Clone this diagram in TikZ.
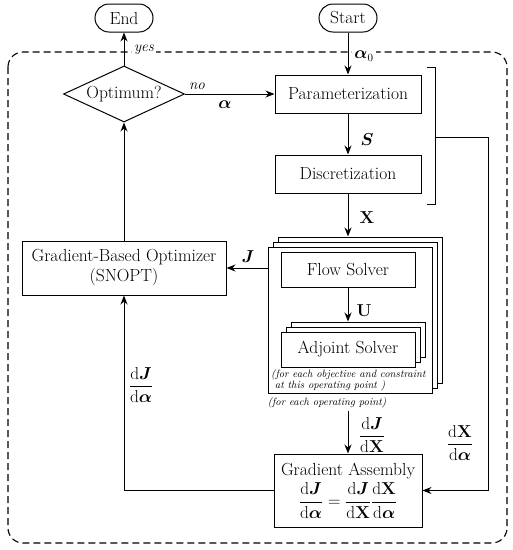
\documentclass[tikz,border=0pt]{standalone}
\usepackage{amsmath}
\usetikzlibrary{shapes.geometric,arrows.meta}
\begin{document}
\begin{tikzpicture}[x=1pt,y=-1pt,
  font=\fontsize{17.5}{20}\selectfont,
  ln/.style={line width=1pt},
  bx/.style={draw,ln,fill=white,inner sep=2pt},
  arr/.style={ln,-{Stealth[length=9pt,width=7pt]}},
  lbl/.style={font=\fontsize{16}{18}\selectfont,inner sep=1pt},
  note/.style={font=\fontsize{10.6}{11.5}\selectfont\itshape,inner sep=0pt},
  term/.style={draw,ln,rounded corners=14pt,minimum height=28pt,minimum width=58pt,inner sep=2pt}]
\useasboundingbox (0,0) rectangle (513,550);
% dashed frame
\draw[line width=1.1pt,dash pattern=on 7pt off 4pt,rounded corners=15pt] (8,52) rectangle (507,543);
% terminals
\node[term] (end) at (124,18) {End};
\node[term] (start) at (348,18) {Start};
% decision
\node[draw,ln,diamond,aspect=2.16,minimum width=121pt,minimum height=56pt,inner sep=0pt] (opt) at (124,94) {Optimum?};
% boxes
\node[bx,minimum width=146pt,minimum height=38pt] (par) at (348,94) {Parameterization};
\node[bx,minimum width=146pt,minimum height=38pt] (dis) at (348,174) {Discretization};
\node[bx,minimum width=204pt,minimum height=54pt,align=center] (gbo) at (124,268) {Gradient-Based Optimizer\\(SNOPT)};
% flow stack
\node[bx,minimum width=164pt,minimum height=146pt] (fs3) at (360,310) {};
\node[bx,minimum width=164pt,minimum height=146pt] (fs2) at (355,315) {};
\node[bx,minimum width=164pt,minimum height=146pt] (fs1) at (350,320) {};
\node[bx,minimum width=134pt,minimum height=35pt] (flow) at (348,270) {Flow Solver};
\node[bx,minimum width=134pt,minimum height=35pt] (ad3) at (358,339.5) {};
\node[bx,minimum width=134pt,minimum height=35pt] (ad2) at (353,344.5) {};
\node[bx,minimum width=134pt,minimum height=35pt] (ad1) at (348,349.5) {Adjoint Solver};
\node[note,anchor=north west,align=left] (objnote) at (271,369) {(for each objective and constraint\\\ at this operating point )};
\node[note] (opnote) at (327,403) {(for each operating point)};
% gradient assembly
\node[bx,minimum width=148pt,minimum height=73pt,align=center] (ga) at (348,490.5)
  {Gradient Assembly\\[3pt]
   $\dfrac{\mathrm{d}\boldsymbol{J}}{\mathrm{d}\boldsymbol{\alpha}}=\dfrac{\mathrm{d}\boldsymbol{J}}{\mathrm{d}\mathbf{X}}\dfrac{\mathrm{d}\mathbf{X}}{\mathrm{d}\boldsymbol{\alpha}}$};
% bracket
\coordinate (bt1) at (427,67);
\coordinate (bt2) at (435,67);
\coordinate (bb2) at (435,204);
\coordinate (bb1) at (427,204);
\coordinate (bm) at (435,137);
\coordinate (br) at (488,137);
\draw[ln] (bt1) -- (bt2) -- (bb2) -- (bb1);
% connectors
\draw[arr] (start) -- (par);
\draw[arr] (opt.north) -- (end.south);
\draw[arr] (opt.east) -- (par.west);
\draw[arr] (par) -- (dis);
\draw[arr] (dis.south) -- (dis.south |- fs3.north);
\draw[arr] (flow.south) -- (flow.south |- ad3.north);
\draw[arr] (gbo.east -| fs1.west) -- (gbo.east);
\draw[arr] (ga.north |- opnote.south) ++(0,2) -- (ga.north);
\draw[arr] (gbo.north) -- (opt.south);
\draw[arr] (ga.west) -- (ga.west -| gbo.south) -- (gbo.south);
\draw[arr] (bm) -- (br) -- (br |- ga.east) -- (ga.east);
% labels
\node[lbl,font=\fontsize{15}{17}\selectfont\itshape,fill=white,inner sep=2pt] (yes) at (144,50) {yes};
\node[lbl,fill=white,inner sep=2pt] (a0) at (364,56) {$\boldsymbol{\alpha}_0$};
\node[lbl,font=\fontsize{15}{17}\selectfont\itshape] (no) at (197,86) {no};
\node[lbl] (al) at (225,105) {$\boldsymbol{\alpha}$};
\node[lbl] (sl) at (367,140) {$\boldsymbol{S}$};
\node[lbl] (xl) at (367,218) {$\mathbf{X}$};
\node[lbl] (jl) at (248,257) {$\boldsymbol{J}$};
\node[lbl] (ul) at (364,311) {$\mathbf{U}$};
\node[lbl] (djda) at (141,385) {$\dfrac{\mathrm{d}\boldsymbol{J}}{\mathrm{d}\boldsymbol{\alpha}}$};
\node[lbl] (djdx) at (372,435) {$\dfrac{\mathrm{d}\boldsymbol{J}}{\mathrm{d}\mathbf{X}}$};
\node[lbl] (dxda) at (460,443) {$\dfrac{\mathrm{d}\mathbf{X}}{\mathrm{d}\boldsymbol{\alpha}}$};
\end{tikzpicture}
\end{document}
